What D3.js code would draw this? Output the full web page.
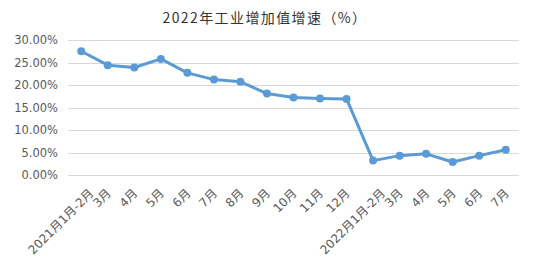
<!DOCTYPE html>
<html>
<head>
<meta charset="utf-8">
<script src="https://cdn.jsdelivr.net/npm/d3@7"></script>
<style>
  body { margin: 0; background: #fff; }
  svg { display: block; font-family: "DejaVu Sans", "Noto Sans CJK SC", sans-serif; }
</style>
</head>
<body>
<div id="chart"></div>
<script>
// chart data
const months = ["2021月1月-2月", "3月", "4月", "5月", "6月", "7月", "8月", "9月", "10月", "11月", "12月",
  "2022月1月-2月", "3月", "4月", "5月", "6月", "7月"];
const growth = [27.5, 24.4, 23.9, 25.8, 22.7, 21.2, 20.7, 18.1, 17.2, 17.0, 16.9, 3.2, 4.3, 4.7, 2.9, 4.3, 5.6];
const yTicks = [0, 5, 10, 15, 20, 25, 30];
const title = "2022年工业增加值增速（%）";

const width = 540, height = 261;
const margin = { top: 40, right: 21, bottom: 86, left: 68 };

const svg = d3.select("#chart").append("svg")
  .attr("width", width)
  .attr("height", height);

// index keys so repeated month names get their own slot
const keys = months.map((m, i) => i);

const x = d3.scaleBand()
  .domain(keys)
  .range([margin.left, width - margin.right]);

const y = d3.scaleLinear()
  .domain([0, 30])
  .range([height - margin.bottom, margin.top]);

// title
svg.append("text")
  .attr("x", 265)
  .attr("y", 23)
  .attr("text-anchor", "middle")
  .attr("font-size", 14)
  .attr("letter-spacing", 1.4)
  .attr("fill", "#333")
  .attr("font-family", "'Noto Sans CJK SC', sans-serif")
  .text(title);

// gridlines
svg.append("g")
  .selectAll("line")
  .data(yTicks)
  .join("line")
    .attr("x1", margin.left)
    .attr("x2", width - margin.right)
    .attr("y1", d => Math.round(y(d)) + 0.5)
    .attr("y2", d => Math.round(y(d)) + 0.5)
    .attr("stroke", "#d9d9d9")
    .attr("stroke-width", 1);

// y axis labels
const yAxis = d3.axisLeft(y)
  .tickValues(yTicks)
  .tickSize(0)
  .tickPadding(10)
  .tickFormat(d => d.toFixed(2) + "%");

svg.append("g")
  .attr("transform", `translate(${margin.left},0)`)
  .call(yAxis)
  .call(g => g.select(".domain").remove())
  .call(g => g.selectAll("text")
    .attr("font-size", 11.5)
    .attr("fill", "#595959")
    .attr("font-family", "'DejaVu Sans', sans-serif"));

// x axis labels, rotated -45
const xAxis = d3.axisBottom(x)
  .tickSize(0)
  .tickFormat(i => months[i]);

svg.append("g")
  .attr("transform", `translate(0,${height - margin.bottom})`)
  .call(xAxis)
  .call(g => g.select(".domain").remove())
  .call(g => g.selectAll("text")
    .attr("font-size", 12)
    .attr("fill", "#595959")
    .attr("font-family", "'DejaVu Sans', 'Noto Sans CJK SC', sans-serif")
    .attr("text-anchor", "end")
    .attr("dy", 0)
    .attr("y", 0)
    // long labels get nudged right, like excel does
    .attr("transform", i => months[i].includes("-") ? "translate(13,19) rotate(-45)" : "translate(4,19) rotate(-45)"));

// line
const line = d3.line()
  .x((d, i) => x(i) + x.bandwidth() / 2)
  .y(d => y(d));

svg.append("path")
  .datum(growth)
  .attr("fill", "none")
  .attr("stroke", "#5b9bd5")
  .attr("stroke-width", 3)
  .attr("stroke-linejoin", "round")
  .attr("d", line);

// markers
svg.append("g")
  .selectAll("circle")
  .data(growth)
  .join("circle")
    .attr("cx", (d, i) => x(i) + x.bandwidth() / 2)
    .attr("cy", d => y(d))
    .attr("r", 4)
    .attr("fill", "#5b9bd5");
</script>
</body>
</html>
